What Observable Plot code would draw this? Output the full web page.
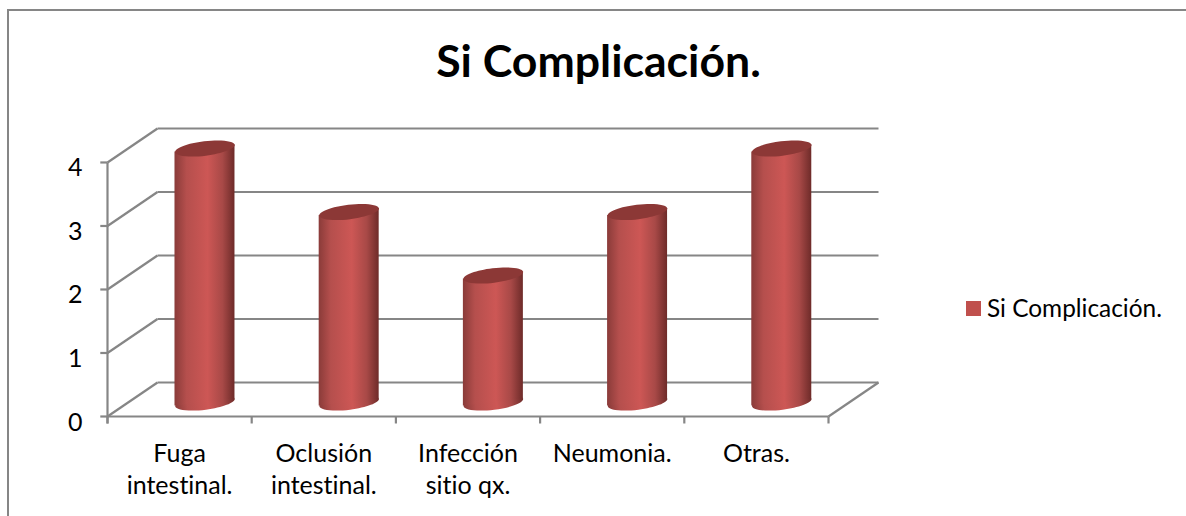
<!DOCTYPE html>
<html lang="es">
<head>
<meta charset="utf-8">
<script src="https://cdn.jsdelivr.net/npm/d3@7"></script>
<script src="https://cdn.jsdelivr.net/npm/@observablehq/plot@0.6"></script>
<style>
html,body{margin:0;padding:0;background:#fff;overflow:hidden}
#page{position:relative;width:1186px;height:516px;overflow:hidden;font-family:Lato,"Open Sans",sans-serif;color:#000;font-variant-ligatures:none}
#frame{position:absolute;left:7px;top:9px;right:-4px;bottom:-4px;border:2px solid #868686;box-sizing:border-box}
#title{position:absolute;left:0;width:1197px;top:36px;text-align:center;font-weight:700;font-size:44.6px;line-height:48px}
#legend{position:absolute;left:966px;top:292px;display:flex;align-items:center;font-size:24.4px;line-height:32px;white-space:nowrap}
#legend i{display:inline-block;width:15px;height:15px;background:#c0504d;margin-right:6px}
#chart{position:absolute;left:0;top:0}
#chart svg{display:block;font-variant-ligatures:none}
</style>
</head>
<body>
<div id="page">
  <div id="frame"></div>
  <div id="chart"></div>
  <div id="title">Si Complicación.</div>
  <div id="legend"><i></i><span>Si Complicación.</span></div>
</div>
<script>
const chartTitle = "Si Complicación.";
const categories = ["Fuga\nintestinal.", "Oclusión\nintestinal.", "Infección\nsitio qx.", "Neumonia.", "Otras."];
const values = [4, 3, 2, 3, 4];
const yTicks = [0, 1, 2, 3, 4];
const xEdges = [0, 1, 2, 3, 4, 5];

// oblique depth of the 3D box, in data units
const depthX = 0.3467, depthY = 0.535;
const midX = 0.176, midY = 0.22;    // where the cylinders stand inside the depth
const halfW = 0.208, tilt = 0.055;  // half width and lean of a cylinder

const bodies = values.flatMap((v, i) => {
  const c = i + 0.5 + midX;
  return [
    {i, x: c - halfW, y1: midY - tilt, y2: v + midY - tilt},
    {i, x: c + halfW, y1: midY + tilt, y2: v + midY + tilt}
  ];
});
const caps = values.map((v, i) => ({x: i + 0.5 + midX, base: midY, top: v + midY}));

// ellipse symbol for the ends of the cylinders
const ellipse = {
  draw(ctx, size) {
    const a = Math.sqrt(size / Math.PI), b = a * 0.24, k = 0.5523;
    ctx.moveTo(-a, 0);
    ctx.bezierCurveTo(-a, -k * b, -k * a, -b, 0, -b);
    ctx.bezierCurveTo(k * a, -b, a, -k * b, a, 0);
    ctx.bezierCurveTo(a, k * b, k * a, b, 0, b);
    ctx.bezierCurveTo(-k * a, b, -a, k * b, -a, 0);
    ctx.closePath();
  }
};

const gradient = () => {
  const defs = d3.create("svg:defs");
  const g = defs.append("linearGradient").attr("id", "cyl").attr("x1", 0).attr("x2", 1).attr("y1", 0).attr("y2", 0);
  [[0, "#8a3b39"], [0.2, "#b54f4d"], [0.55, "#cd5755"], [0.8, "#a84947"], [1, "#6e2b29"]]
    .forEach(([o, c]) => g.append("stop").attr("offset", o).attr("stop-color", c));
  return defs.node();
};

const gridColor = "#868686";
const gridWidth = 2.2;
const chart = Plot.plot({
  width: 1186, height: 516,
  marginLeft: 107, marginRight: 308, marginTop: 128, marginBottom: 100,
  style: {background: "transparent", overflow: "visible"},
  x: {domain: [0, 5 + depthX], axis: null},
  y: {domain: [0, 4 + depthY], axis: null},
  marks: [
    gradient,
    // back wall lines and side wall diagonals
    Plot.link(yTicks, {x1: depthX, x2: 5 + depthX, y1: d => d + depthY, y2: d => d + depthY, stroke: gridColor, strokeWidth: gridWidth}),
    Plot.link(yTicks, {x1: 0, x2: depthX, y1: d => d, y2: d => d + depthY, stroke: gridColor, strokeWidth: gridWidth}),
    Plot.link([0], {x1: 5, x2: 5 + depthX, y1: 0, y2: depthY, stroke: gridColor, strokeWidth: gridWidth}),
    // front axes and ticks
    Plot.link([0], {x1: 0, x2: 0, y1: -0.11, y2: 4, stroke: gridColor, strokeWidth: gridWidth}),
    Plot.link([0], {x1: 0, x2: 5, y1: 0, y2: 0, stroke: gridColor, strokeWidth: gridWidth}),
    Plot.link(yTicks, {x1: -0.05, x2: 0, y1: d => d, y2: d => d, stroke: gridColor, strokeWidth: gridWidth}),
    Plot.link(xEdges, {x1: d => d, x2: d => d, y1: -0.11, y2: 0, stroke: gridColor, strokeWidth: gridWidth}),
    // cylinders
    Plot.dot(caps, {x: "x", y: "base", r: 30, symbol: ellipse, rotate: -7, fill: "url(#cyl)", stroke: "none"}),
    Plot.areaY(bodies, {x: "x", y1: "y1", y2: "y2", z: "i", fill: "url(#cyl)", curve: "linear"}),
    Plot.dot(caps, {x: "x", y: "top", r: 30, symbol: ellipse, rotate: -7, fill: "#8c3836", stroke: "none"}),
    // labels
    Plot.axisY(yTicks, {anchor: "left", tickSize: 0, tickPadding: 25, dy: 6, tickFormat: "d", fontSize: 25, fontFamily: "Lato, sans-serif", label: null, fill: "#000"}),
    Plot.text(categories, {x: (d, i) => i + 0.5, frameAnchor: "bottom", lineAnchor: "top", dy: 23, lineHeight: 1.28, fontSize: 25, fontFamily: "Lato, sans-serif", fill: "#000", text: d => d})
  ]
});
document.getElementById("chart").append(chart);
</script>
</body>
</html>
